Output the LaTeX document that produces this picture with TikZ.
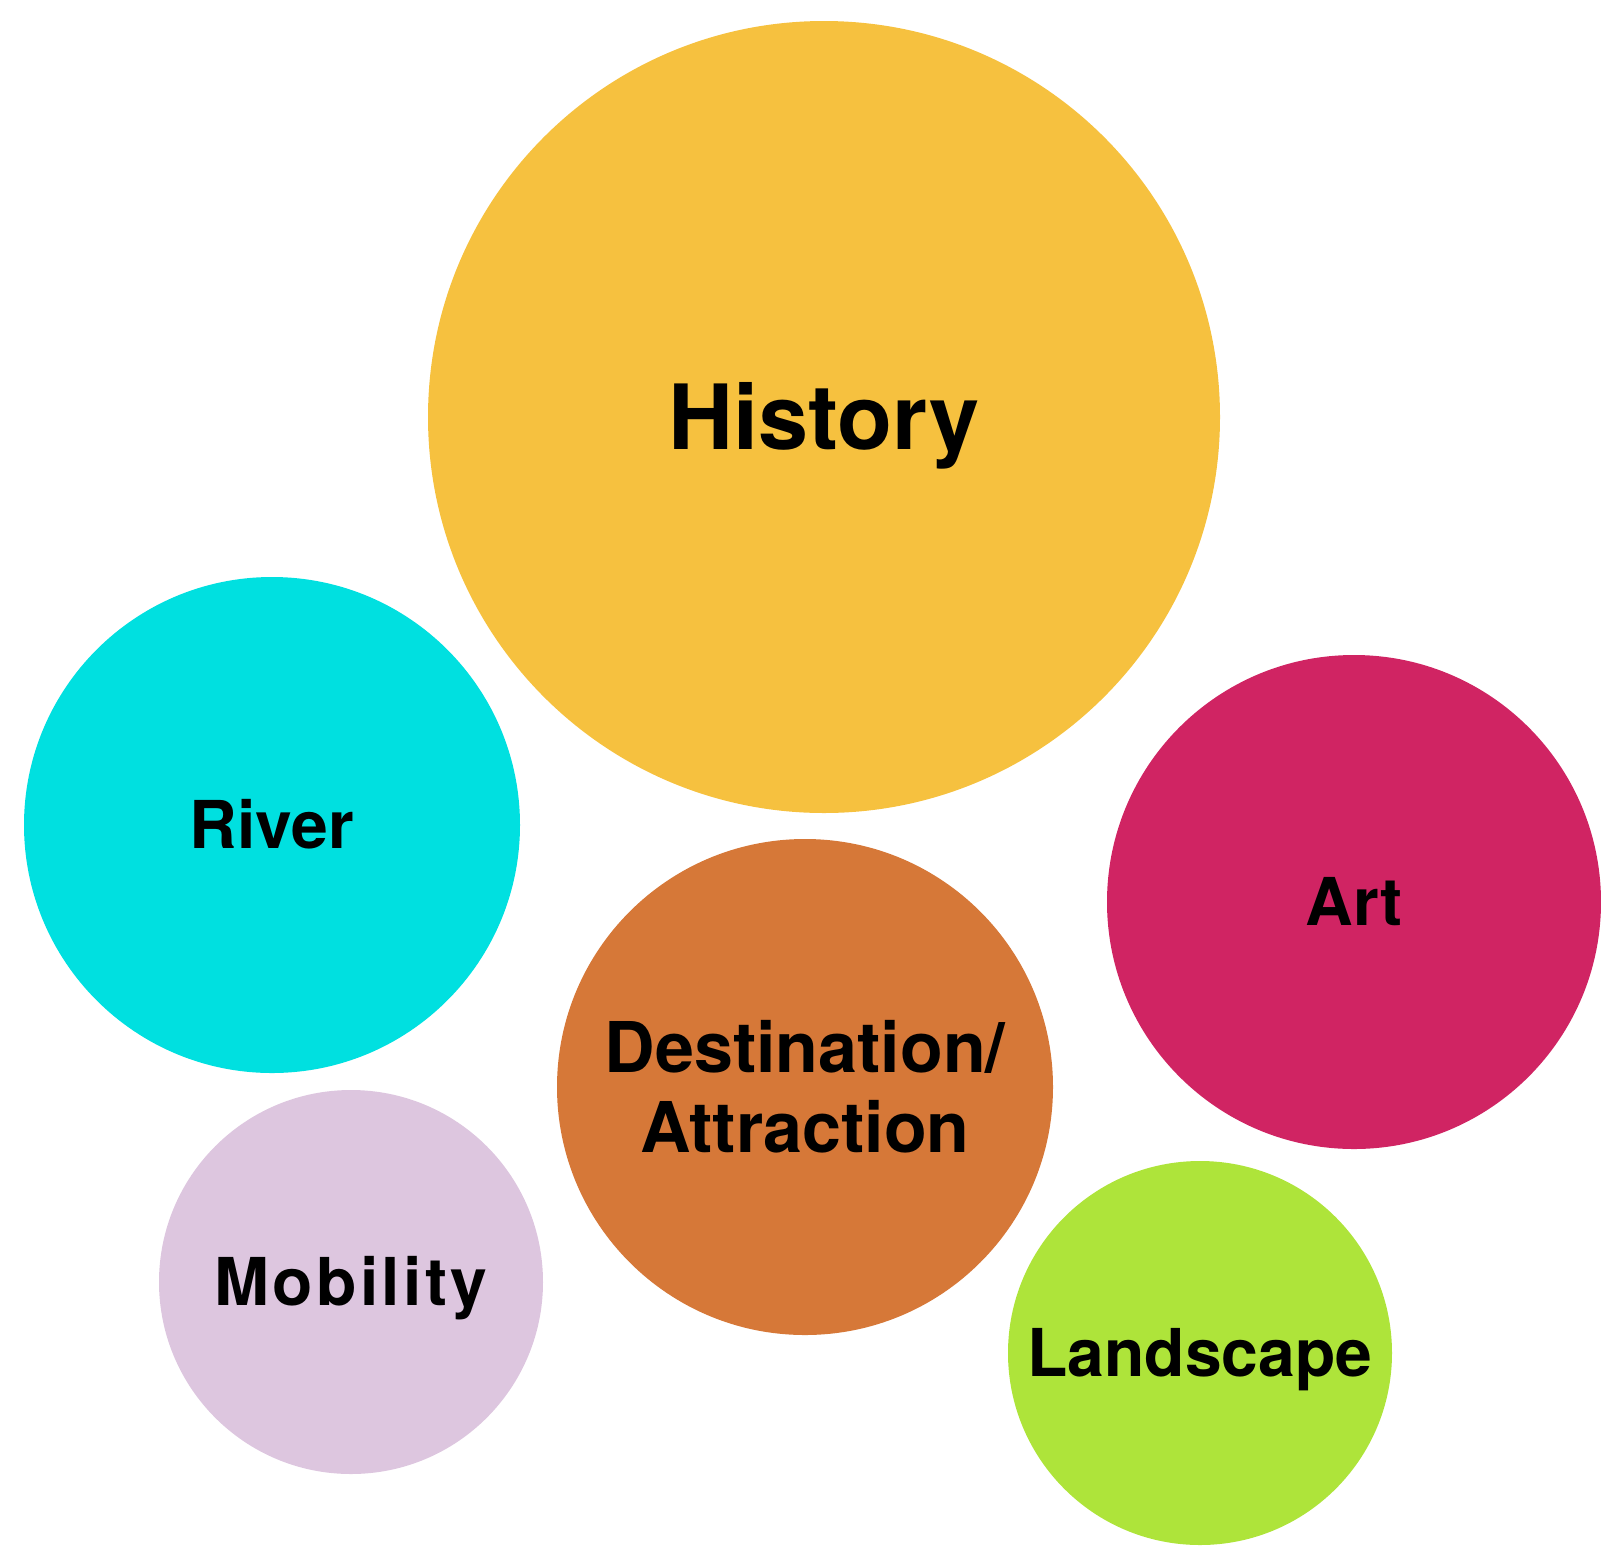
\documentclass[tikz,border=0pt]{standalone}
\usepackage{fontspec}
\setmainfont{TeX Gyre Heros}
\definecolor{histcol}{HTML}{F6C13F}
\definecolor{rivercol}{HTML}{00E0E0}
\definecolor{artcol}{HTML}{D02463}
\definecolor{destcol}{HTML}{D67838}
\definecolor{mobcol}{HTML}{DDC6DF}
\definecolor{landcol}{HTML}{AEE43A}
\tikzset{
  bubble/.style={circle, inner sep=0pt, font=\bfseries\fontsize{33}{40}\selectfont, text height=23.8pt, text depth=0pt},
}
\begin{document}
\begin{tikzpicture}[x=0.5pt, y=-0.5pt]
		\useasboundingbox (0,0) rectangle (1601,1548);
		% big one on top
		\node[bubble, fill=histcol, minimum size=396pt, font=\bfseries\fontsize{45}{50}\selectfont, text height=32.4pt] (history) at (824,417) {History};
		\node[bubble, fill=rivercol, minimum size=248pt] (river) at (272,825) {River};
		\node[bubble, fill=artcol, minimum size=247pt] (art) at (1354,902) {Art};
		\node[bubble, fill=destcol, minimum size=248pt, align=center, font=\bfseries\fontsize{35}{40}\selectfont, text height=65.2pt] (dest) at (805,1087) {Destination/\\Attraction};
		\node[bubble, fill=mobcol, minimum size=192pt, font=\bfseries\fontsize{33}{40}\selectfont\addfontfeatures{LetterSpace=5}] (mobility) at (351,1282) {Mobility};
		\node[bubble, fill=landcol, minimum size=192pt] (landscape) at (1200,1353) {Landscape};
\end{tikzpicture}
\end{document}
